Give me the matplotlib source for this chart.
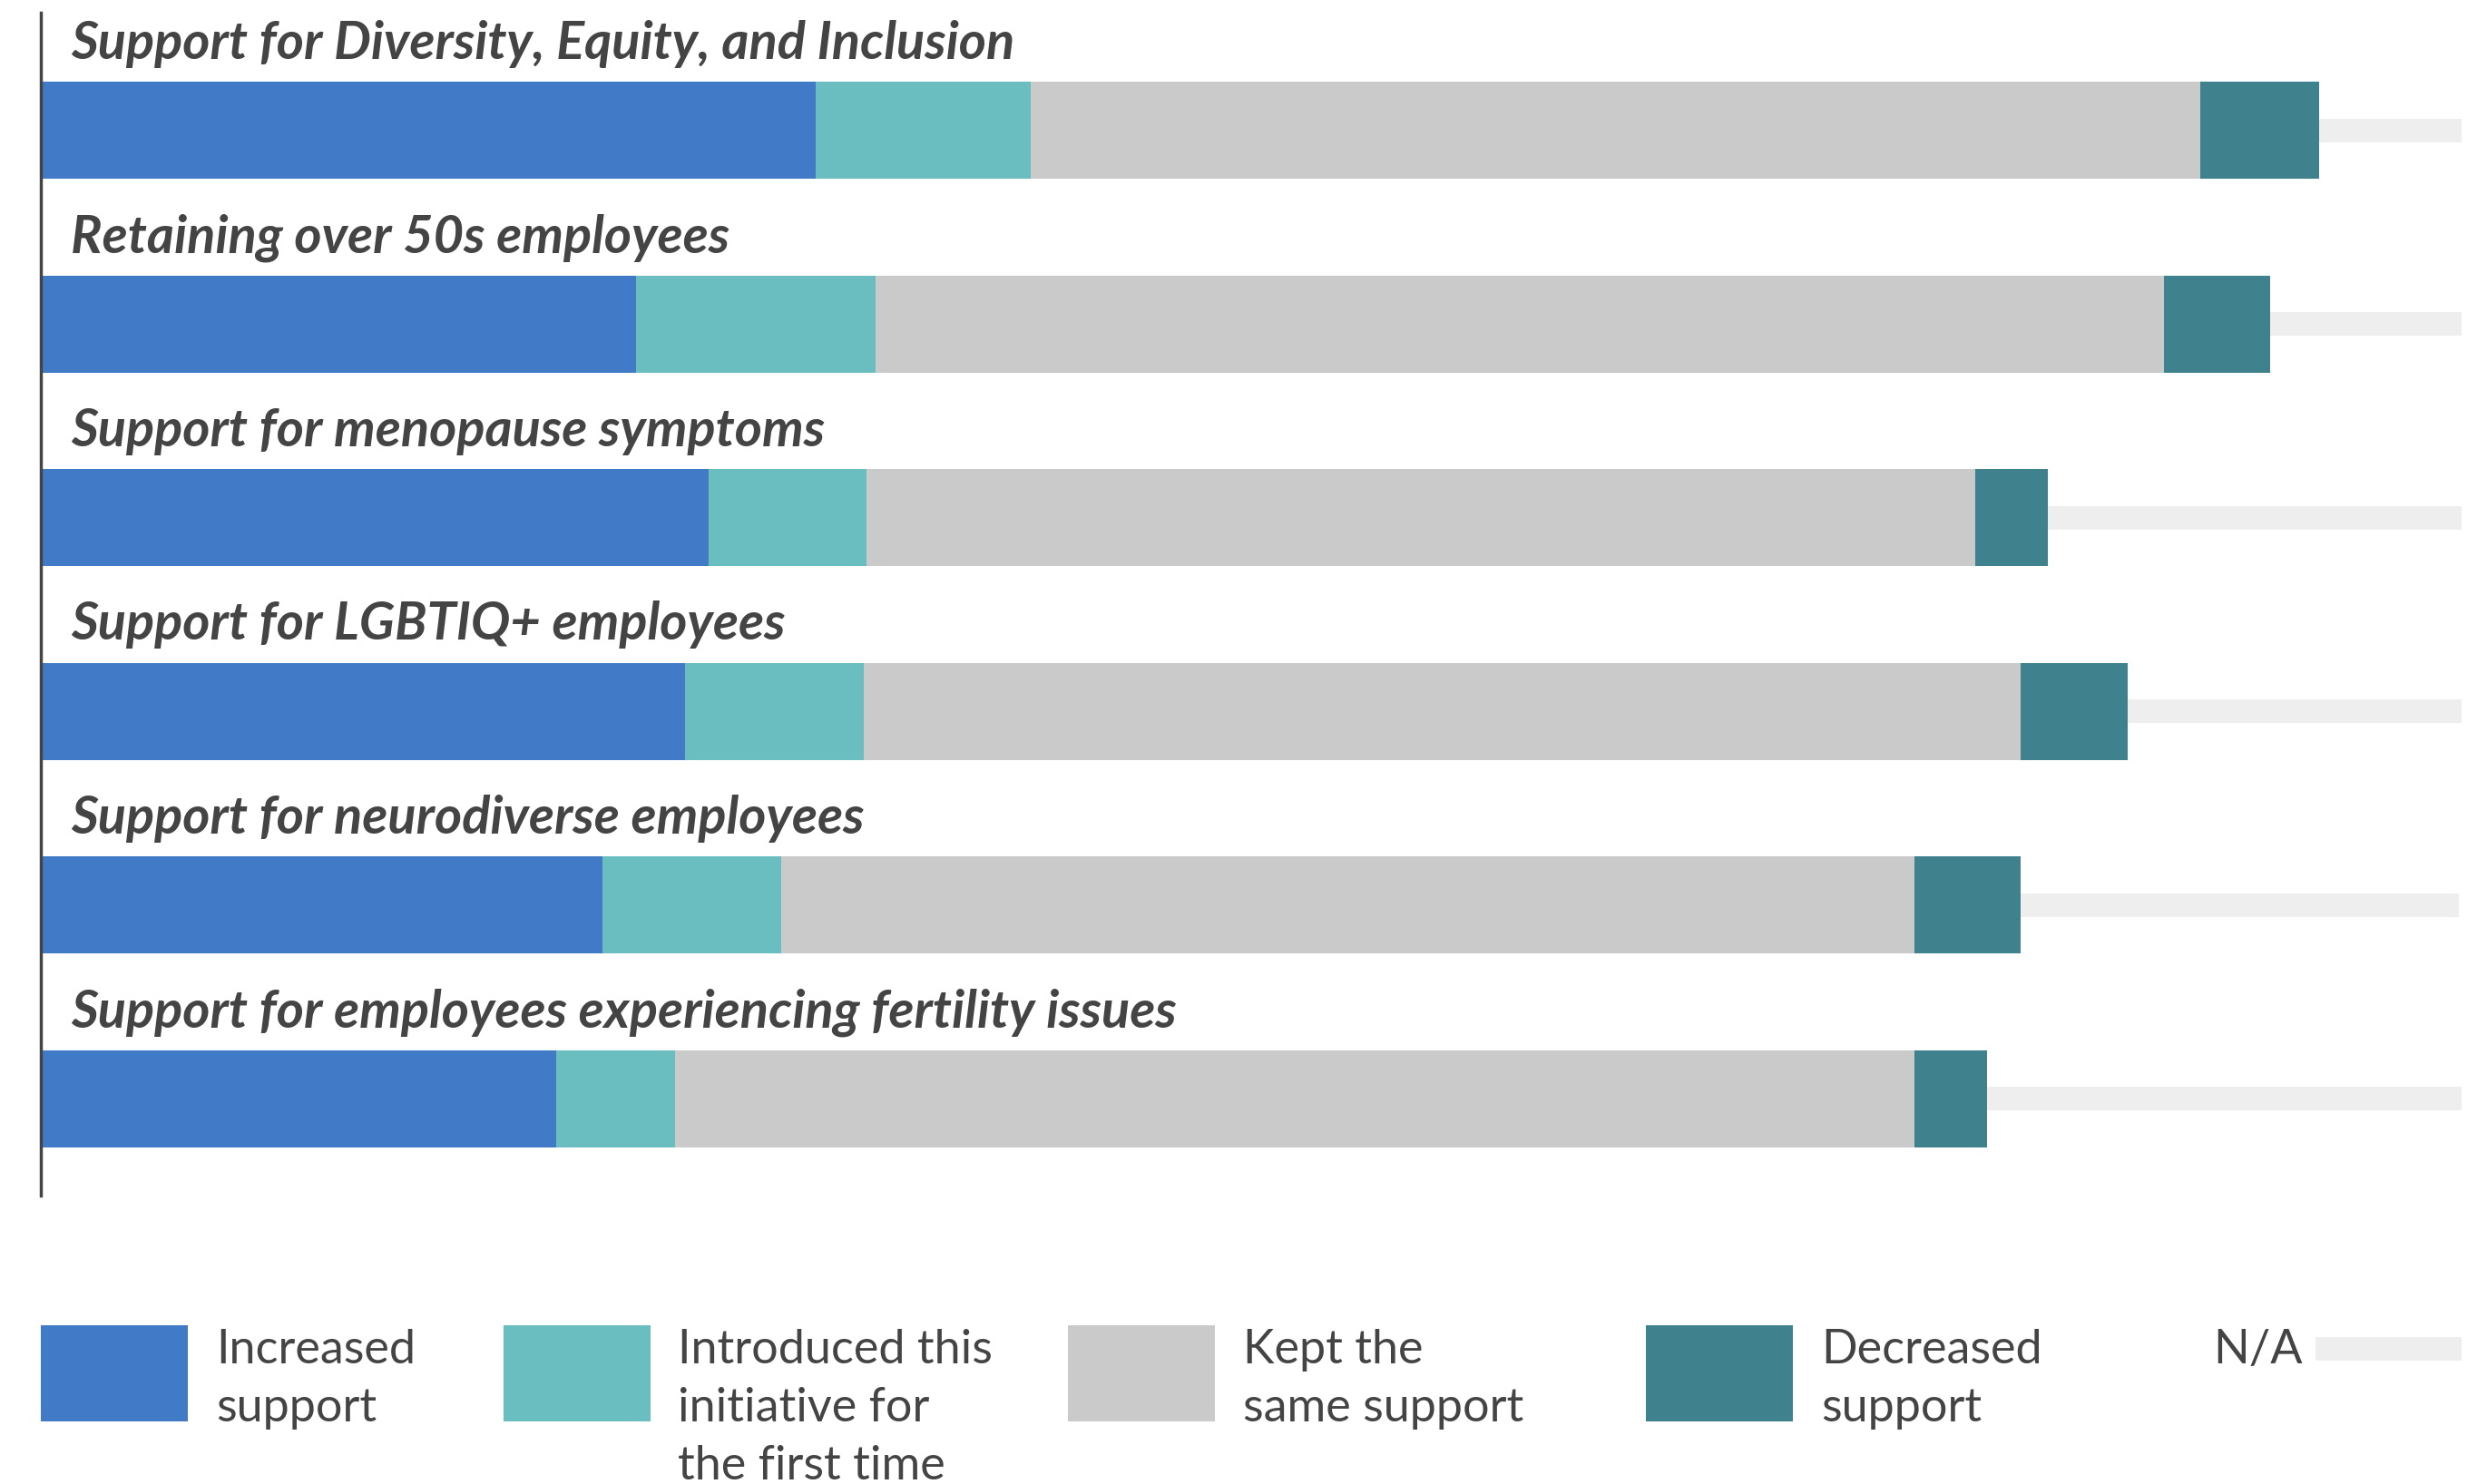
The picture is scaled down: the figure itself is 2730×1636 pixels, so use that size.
import matplotlib.pyplot as plt
from matplotlib.patches import Rectangle

# Data (percent of respondents)
categories = [
    "Support for Diversity, Equity, and Inclusion",
    "Retaining over 50s employees",
    "Support for menopause symptoms",
    "Support for LGBTIQ+ employees",
    "Support for neurodiverse employees",
    "Support for employees experiencing fertility issues",
]
increased = [32.0, 24.6, 27.6, 26.6, 23.2, 21.3]
introduced = [8.9, 9.9, 6.5, 7.4, 7.4, 4.9]
kept_same = [48.3, 53.2, 45.8, 47.8, 46.8, 51.2]
decreased = [4.9, 4.4, 3.0, 4.4, 4.4, 3.0]
not_applicable = [5.9, 7.9, 17.2, 13.8, 18.1, 19.6]

series_labels = ["Increased\nsupport", "Introduced this\ninitiative for\nthe first time",
                 "Kept the\nsame support", "Decreased\nsupport"]
colors = ["#417bc7", "#6bbec0", "#cacaca", "#3f828e"]
na_color = "#eeeeee"
text_color = "#444444"

plt.rcParams['font.family'] = ['Lato', 'DejaVu Sans']

W, H = 2730, 1636
fig = plt.figure(figsize=(W / 100, H / 100), dpi=100)
ax = fig.add_axes([45 / W, 1 - 1318 / H, (2713 - 45) / W, 1304 / H])

bar_h = 0.5
na_h = 0.122
y = list(range(len(categories)))
left = [0.0] * len(categories)
for vals, c in zip([increased, introduced, kept_same, decreased], colors):
    ax.barh(y, vals, left=left, height=bar_h, color=c, linewidth=0)
    left = [l + v for l, v in zip(left, vals)]
ax.barh(y, not_applicable, left=left, height=na_h, color=na_color, linewidth=0)

for i, cat in enumerate(categories):
    ax.text(1.24, i - 0.37, cat, fontsize=41.6, fontweight='bold', fontstyle='italic',
            color=text_color, va='baseline', ha='left')

ax.set_xlim(0, 100)
ax.set_ylim(5.5, -0.607)
ax.set_xticks([])
ax.set_yticks([])
for s in ['top', 'right', 'bottom']:
    ax.spines[s].set_visible(False)
ax.spines['left'].set_color(text_color)
ax.spines['left'].set_linewidth(2.5)

# Legend drawn in figure pixel space
patch_x = [45, 555, 1177, 1814]
text_x = [238, 747, 1370, 2007]
top = 1461
for px, tx, lab, c in zip(patch_x, text_x, series_labels, colors):
    fig.patches.append(Rectangle((px / W, 1 - (top + 106) / H), 162 / W, 106 / H,
                                 transform=fig.transFigure, color=c, linewidth=0))
    fig.text(tx / W, 1 - 1465 / H, lab, fontsize=37.5, color=text_color,
             va='top', ha='left', linespacing=1.45)
fig.text(2439 / W, 1 - 1465 / H, "N/A", fontsize=37.5, color=text_color, va='top', ha='left')
fig.patches.append(Rectangle((2552 / W, 1 - 1500 / H), 161 / W, 26 / H,
                             transform=fig.transFigure, color=na_color, linewidth=0))

fig.savefig("out.png", dpi=100, facecolor="white")
